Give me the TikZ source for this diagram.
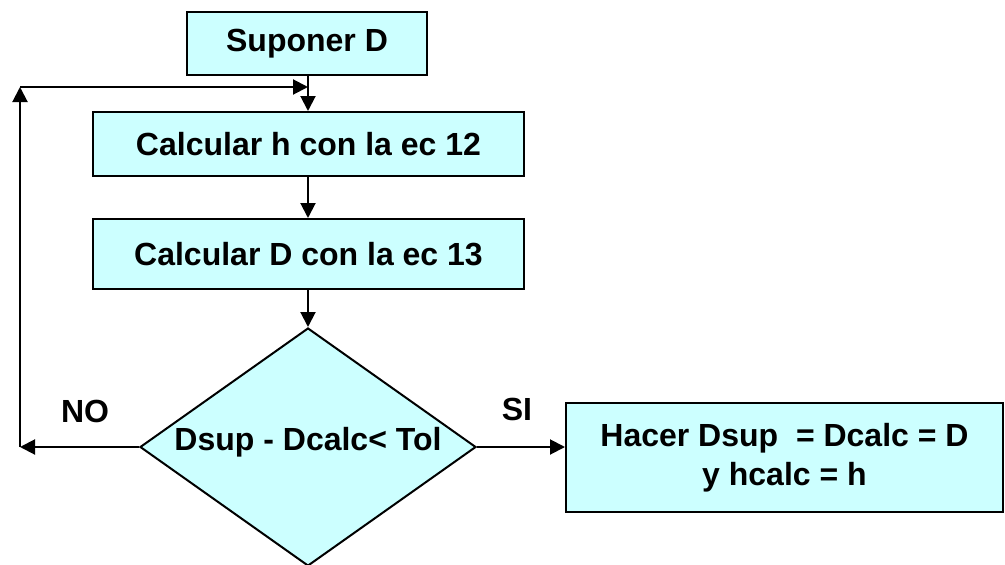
\documentclass[tikz,border=0pt]{standalone}
\usepackage{fontspec}
\setmainfont{Liberation Sans}
\usetikzlibrary{arrows.meta,shapes.geometric}

\definecolor{boxfill}{HTML}{CCFFFF}

\tikzset{
  base/.style={draw=black, line width=2pt, fill=boxfill, inner sep=0pt,
    font=\fontsize{32}{39}\selectfont\bfseries, align=center},
  procbox/.style={base, rectangle},
  decbox/.style={base, diamond},
  flow/.style={line width=2pt, -{Triangle[length=15pt,width=15pt]}},
  lbl/.style={font=\fontsize{32}{39}\selectfont\bfseries, inner sep=0pt}
}

\begin{document}
\begin{tikzpicture}[x=1pt,y=-1pt]
  \useasboundingbox (0,0) rectangle (1005,565);

  % process steps
  \node[procbox, minimum width=240pt, minimum height=63pt] (sup) at (307,43.5) {Suponer D};
  \node[procbox, minimum width=431pt, minimum height=64pt] (calch) at (308.5,144) {Calcular h con la ec 12};
  \node[procbox, minimum width=431pt, minimum height=70pt] (calcd) at (308.5,254) {Calcular D con la ec 13};

  % decision
  \node[decbox, minimum width=336pt, minimum height=238pt] (dec) at (308,447) {};
  \node[lbl] (dectext) at (308,442) {Dsup - Dcalc< Tol};

  % result
  \node[procbox, minimum width=437pt, minimum height=109pt] (res) at (784.5,457.5)
    {Hacer Dsup\ \ = Dcalc = D\\y hcalc = h};

  % branch labels
  \node[lbl] (no) at (85,411) {NO};
  \node[lbl] (si) at (517,409) {SI};

  % loop-back corners
  \coordinate (cl) at (20,447);
  \coordinate (ct) at (20,87);
  \coordinate (cm) at (308,87);

  % main flow
  \draw[flow] (sup.south -| cm) -- (cm |- calch.north);
  \draw[flow] (cm |- calch.south) -- (cm |- calcd.north);
  \draw[flow] (cm |- calcd.south) -- (dec.north);
  \draw[flow] (dec.east) -- (dec.east -| res.west);

  % loop back on NO
  \draw[flow] (dec.west) -- (cl);
  \draw[flow] (cl) -- (ct);
  \draw[flow] (ct) -- (cm);
\end{tikzpicture}
\end{document}
